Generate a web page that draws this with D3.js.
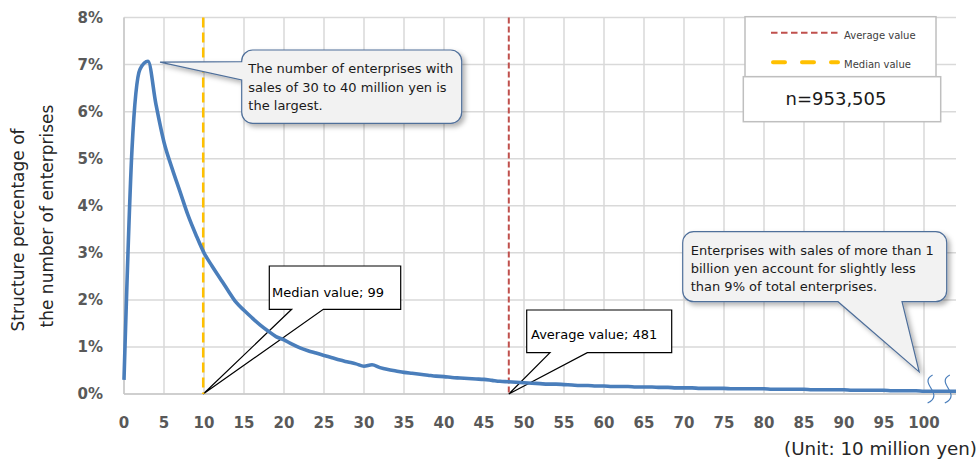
<!DOCTYPE html>
<html>
<head>
<meta charset="utf-8">
<script src="https://cdn.jsdelivr.net/npm/d3@7"></script>
<style>
  html, body { margin: 0; padding: 0; background: #fff; }
  svg { display: block; font-family: "DejaVu Sans", Verdana, sans-serif; }
</style>
</head>
<body>
<svg id="chart" width="978" height="462"></svg>
<script>
// ---- data (structure percentage, %, by sales class in units of 10 million yen) ----
const shares = [
  0.30, 5.20, 6.90, 7.07, 6.15, 5.35, 4.80, 4.30, 3.80, 3.38,
  3.00, 2.72, 2.46, 2.20, 1.95, 1.78, 1.62, 1.47, 1.34, 1.22,
  1.15, 1.06, 0.98, 0.92, 0.87, 0.82, 0.77, 0.72, 0.68, 0.64,
  0.59, 0.62, 0.56, 0.52, 0.49, 0.46, 0.44, 0.42, 0.40, 0.38,
  0.37, 0.35, 0.34, 0.33, 0.32, 0.31, 0.29, 0.27, 0.26, 0.25,
  0.24, 0.23, 0.22, 0.21, 0.21, 0.20, 0.19, 0.18, 0.18, 0.17,
  0.17, 0.16, 0.16, 0.16, 0.15, 0.15, 0.15, 0.14, 0.14, 0.13,
  0.13, 0.13, 0.12, 0.12, 0.12, 0.12, 0.11, 0.11, 0.11, 0.11,
  0.11, 0.10, 0.10, 0.10, 0.10, 0.10, 0.09, 0.09, 0.09, 0.09,
  0.09, 0.08, 0.08, 0.08, 0.08, 0.08, 0.07, 0.07, 0.07, 0.07,
  0.06, 0.06, 0.06, 0.06, 0.06
];
const xTicks = [0,5,10,15,20,25,30,35,40,45,50,55,60,65,70,75,80,85,90,95,100];
const yTicks = [0,1,2,3,4,5,6,7,8];
const medianValue = 99;   // in 1 million yen -> 9.9 units
const averageValue = 481; // -> 48.1 units
const sampleSize = "n=953,505";
const legendLabels = ["Average value", "Median value"];
const yTitle = ["Structure percentage of", "the number of enterprises"];
const unitLabel = "(Unit: 10 million yen)";
const note1 = ["The number of enterprises with", "sales of 30 to 40 million yen is", "the largest."];
const note2 = ["Enterprises with sales of more than 1", "billion yen account for slightly less", "than 9% of total enterprises."];

// ---- scales ----
const svg = d3.select("#chart");
const x = d3.scaleLinear().domain([0, 104]).range([124, 956]);
const y = d3.scaleLinear().domain([0, 8]).range([394, 17.5]);

const defs = svg.append("defs");
const f = defs.append("filter").attr("id", "shadow").attr("x", "-10%").attr("y", "-10%").attr("width", "130%").attr("height", "140%");
f.append("feDropShadow").attr("dx", 3).attr("dy", 3).attr("stdDeviation", 2.5)
  .attr("flood-color", "#000").attr("flood-opacity", 0.3);

// ---- gridlines ----
const grid = svg.append("g");
grid.selectAll("line.h").data(yTicks).join("line")
  .attr("x1", x(0)).attr("x2", x(104))
  .attr("y1", d => y(d)).attr("y2", d => y(d))
  .attr("stroke", "#d9d9d9").attr("stroke-width", 1.5);
grid.selectAll("line.v").data(xTicks).join("line")
  .attr("x1", d => x(d)).attr("x2", d => x(d))
  .attr("y1", y(8)).attr("y2", y(0))
  .attr("stroke", "#d9d9d9").attr("stroke-width", 1.5);
// axis baseline
svg.append("line").attr("x1", x(0)).attr("x2", x(104)).attr("y1", y(0)).attr("y2", y(0))
  .attr("stroke", "#c8c8c8").attr("stroke-width", 1.5);
svg.append("line").attr("x1", x(0)).attr("x2", x(0)).attr("y1", y(8)).attr("y2", y(0))
  .attr("stroke", "#c8c8c8").attr("stroke-width", 1.5);

// ---- tick labels ----
svg.append("g").selectAll("text").data(yTicks).join("text")
  .attr("x", 103).attr("y", d => y(d)).attr("dy", "0.36em")
  .attr("text-anchor", "end").attr("font-size", 15).attr("font-weight", "bold")
  .attr("fill", "#595959").text(d => d + "%");
svg.append("g").selectAll("text").data(xTicks).join("text")
  .attr("x", d => x(d)).attr("y", 428)
  .attr("text-anchor", "middle").attr("font-size", 15).attr("font-weight", "bold")
  .attr("fill", "#595959").text(d => d);

// axis titles
svg.append("text").attr("transform", "translate(24,230) rotate(-90)")
  .attr("text-anchor", "middle").attr("font-size", 17).attr("fill", "#262626").text(yTitle[0]);
svg.append("text").attr("transform", "translate(52.5,216) rotate(-90)")
  .attr("text-anchor", "middle").attr("font-size", 17).attr("fill", "#262626").text(yTitle[1]);
svg.append("text").attr("x", 977).attr("y", 455).attr("text-anchor", "end")
  .attr("font-size", 18.3).attr("fill", "#262626").text(unitLabel);

// ---- median / average callouts (rectangular) ----
function rectCallout(x0, y0, x1, y1, b0, b1, tip) {
  return `M${x0},${y0}H${x1}V${y1}H${b1}L${tip[0]},${tip[1]}L${b0},${y1}H${x0}Z`;
}
const medX = x(medianValue / 10), avgX = x(averageValue / 10);
svg.append("path").attr("d", rectCallout(269.3, 266, 400.7, 309.3, 291.7, 323.3, [medX, y(0)]))
  .attr("fill", "#fff").attr("stroke", "#000").attr("stroke-width", 1.2);
svg.append("text").attr("x", 272).attr("y", 296.5).attr("font-size", 13).attr("fill", "#000")
  .text(`Median value; ${medianValue}`);
svg.append("path").attr("d", rectCallout(526.7, 310, 671.7, 352.7, 550, 587.3, [avgX, y(0)]))
  .attr("fill", "#fff").attr("stroke", "#000").attr("stroke-width", 1.2);
svg.append("text").attr("x", 531).attr("y", 339).attr("font-size", 13).attr("fill", "#000")
  .text(`Average value; ${averageValue}`);

// ---- reference lines ----
svg.append("line").attr("x1", medX).attr("x2", medX).attr("y1", y(8)).attr("y2", y(0))
  .attr("stroke", "#ffc000").attr("stroke-width", 2.5).attr("stroke-dasharray", "10,5");
svg.append("line").attr("x1", avgX).attr("x2", avgX).attr("y1", y(8)).attr("y2", y(0))
  .attr("stroke", "#c0504d").attr("stroke-width", 2).attr("stroke-dasharray", "6,3");

// ---- series ----
const line = d3.line().x((d, i) => x(i)).y(d => y(d)).curve(d3.curveMonotoneX);
svg.append("path").datum(shares).attr("d", line)
  .attr("fill", "none").attr("stroke", "#4a7ebb").attr("stroke-width", 3.6)
  .attr("stroke-linejoin", "round");

// axis break marks
const brk = d3.path();
[100.95, 103.1].forEach(c => {
  const bx = x(c);
  brk.moveTo(bx + 1, 375);
  brk.bezierCurveTo(bx - 14, 383, bx + 14, 394, bx - 4, 403);
});
svg.append("path").attr("d", brk.toString()).attr("fill", "none")
  .attr("stroke", "#4a7ebb").attr("stroke-width", 1.2);

// ---- rounded callouts ----
function roundCallout(x0, y0, x1, y1, r, tailFn) {
  return `M${x0 + r},${y0}H${x1 - r}A${r},${r} 0 0 1 ${x1},${y0 + r}V${y1 - r}A${r},${r} 0 0 1 ${x1 - r},${y1}` +
    tailFn.bottom(x1, y1) + `H${x0 + r}A${r},${r} 0 0 1 ${x0},${y1 - r}` + tailFn.left(x0, y0) +
    `V${y0 + r}A${r},${r} 0 0 1 ${x0 + r},${y0}Z`;
}
const tip1 = [x(4.5), y(7.05)];
svg.append("path").attr("d", roundCallout(241.7, 50, 461.7, 123.3, 11, {
    bottom: () => "",
    left: (x0) => `V80L${tip1[0]},${tip1[1]}L${x0},61.7`
  }))
  .attr("fill", "#f2f2f2").attr("stroke", "#4f6f9a").attr("stroke-width", 1.2).attr("filter", "url(#shadow)");
svg.append("g").selectAll("text").data(note1).join("text")
  .attr("x", 248.3).attr("y", (d, i) => 73.3 + i * 18.4).attr("font-size", 13).attr("fill", "#1a1a1a").text(d => d);

const tip2 = [x(99.4), y(0.47)];
svg.append("path").attr("d", roundCallout(682.7, 231.7, 946.7, 301.7, 11, {
    bottom: (x1, y1) => `H902L${tip2[0]},${tip2[1]}L838,${y1}`,
    left: () => ""
  }))
  .attr("fill", "#f2f2f2").attr("stroke", "#4f6f9a").attr("stroke-width", 1.2).attr("filter", "url(#shadow)");
svg.append("g").selectAll("text").data(note2).join("text")
  .attr("x", 690.7).attr("y", (d, i) => 255 + i * 18).attr("font-size", 13).attr("fill", "#1a1a1a").text(d => d);

// ---- legend ----
svg.append("rect").attr("x", 745).attr("y", 16.7).attr("width", 191).attr("height", 60)
  .attr("fill", "#fff").attr("stroke", "#bfbfbf").attr("stroke-width", 1.5);
svg.append("line").attr("x1", 771).attr("x2", 840).attr("y1", 32.7).attr("y2", 32.7)
  .attr("stroke", "#c0504d").attr("stroke-width", 2).attr("stroke-dasharray", "6.5,3.5");
svg.append("line").attr("x1", 773).attr("x2", 838).attr("y1", 62.3).attr("y2", 62.3)
  .attr("stroke", "#ffc000").attr("stroke-width", 4).attr("stroke-dasharray", "12,17")
  .attr("stroke-linecap", "round");
svg.append("g").selectAll("text").data(legendLabels).join("text")
  .attr("x", 844).attr("y", (d, i) => 39.3 + i * 29).attr("font-size", 10).attr("fill", "#404040").text(d => d);

// n box
svg.append("rect").attr("x", 743.3).attr("y", 76.7).attr("width", 197.4).attr("height", 45)
  .attr("fill", "#fff").attr("stroke", "#bfbfbf").attr("stroke-width", 1.5);
svg.append("text").attr("x", 836).attr("y", 105).attr("text-anchor", "middle")
  .attr("font-size", 18).attr("fill", "#1a1a1a").text(sampleSize);
</script>
</body>
</html>
